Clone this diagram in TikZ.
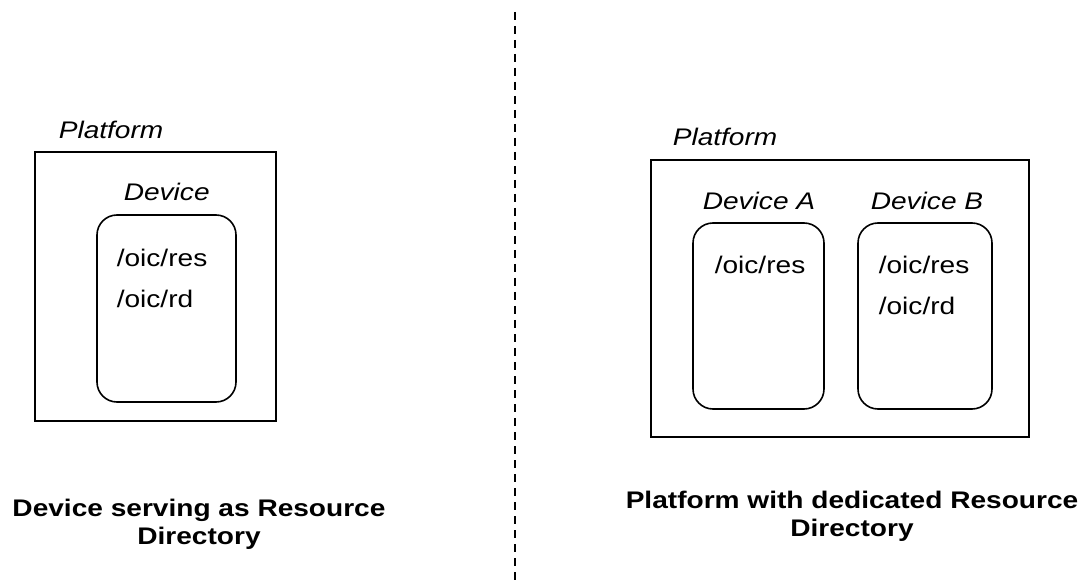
\documentclass[tikz,border=0pt]{standalone}
\usepackage{fontspec}
\setmainfont{Liberation Sans}[FakeStretch=1.17]
\usetikzlibrary{positioning}
\begin{document}
\begin{tikzpicture}[x=1pt,y=-1pt,line width=1.6pt,
  plat/.style={draw,rectangle,inner sep=0pt},
  dev/.style={draw,rectangle,rounded corners=20pt,inner sep=0pt},
  lbl/.style={anchor=base west,inner sep=0pt,font=\fontsize{24}{28}\selectfont\itshape},
  res/.style={anchor=base west,inner sep=0pt,font=\fontsize{24}{28}\selectfont},
  caption/.style={anchor=base,align=center,inner sep=0pt,font=\fontsize{24}{28}\selectfont\bfseries}]
\useasboundingbox (0,0) rectangle (1085,580);
% left: device serving as RD
\node[plat,minimum width=241,minimum height=269] (platL) at (155.5,286.5) {};
\node[lbl] (platLlbl) at (58,139) {Platform};
\node[dev,minimum width=139,minimum height=187] (dev) at (166.5,308.5) {};
\node[lbl] (devlbl) at (123,201) {Device};
\node[res] (devres) at (116,267) {/oic/res};
\node[res] (devrd) at (116,308) {/oic/rd};
\node[caption] (capL) at (199,544) {Device serving as Resource\\Directory};
% divider
\coordinate (divtop) at (515,12);
\coordinate (divbot) at (515,580);
\draw[line width=2pt,dash pattern=on 8pt off 6pt] (divtop) -- (divbot);
% right: platform with dedicated RD
\node[plat,minimum width=378,minimum height=277] (platR) at (840,298.5) {};
\node[lbl] (platRlbl) at (672,146) {Platform};
\node[dev,minimum width=131,minimum height=186] (devA) at (758.5,316) {};
\node[dev,minimum width=134,minimum height=186] (devB) at (925,316) {};
\node[lbl] (devAlbl) at (702,210) {Device A};
\node[lbl] (devBlbl) at (870,210) {Device B};
\node[res] (devAres) at (714,273) {/oic/res};
\node[res] (devBres) at (878,273) {/oic/res};
\node[res] (devBrd) at (878,315) {/oic/rd};
\node[caption] (capR) at (852,536) {Platform with dedicated Resource\\Directory};
\end{tikzpicture}
\end{document}
